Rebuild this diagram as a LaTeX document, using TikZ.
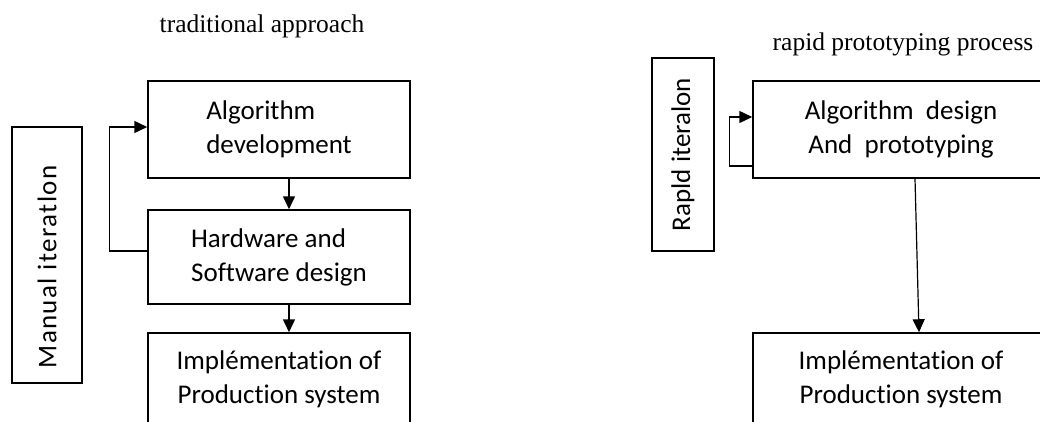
\documentclass[tikz,border=0pt]{standalone}
\usepackage{fontspec}
\setmainfont{Liberation Serif}
\newfontfamily\boxfont[Ligatures=NoCommon]{Carlito}
\usetikzlibrary{arrows.meta}
\tikzset{
	stagebox/.style={draw, line width=1.5pt, inner sep=0pt, font=\boxfont\fontsize{27}{34}\selectfont},
	sidebox/.style={draw, line width=1.5pt, inner sep=0pt, font=\boxfont\fontsize{27}{30}\selectfont},
	flow/.style={line width=1.5pt, -{Triangle[length=13pt,width=12pt]}},
	heading/.style={font=\fontsize{25.5}{30}\selectfont}
}

\begin{document}
\begin{tikzpicture}[x=1pt, y=-1pt]
			%%%%% START %%%%%
			\useasboundingbox (0, 0) rectangle (1040, 421);
			\clip (0, 0) rectangle (1040, 421);
			
			% traditional approach
			\node[heading] (tradtitle) at (262, 26) {traditional approach};
			\node[sidebox, minimum width=256, minimum height=70, rotate=90,
				font=\boxfont\fontsize{27}{30}\selectfont\addfontfeature{LetterSpace=5}] (manual) at (47, 255) {Manual\hspace{0.3em}iteratlon\hspace*{24pt}};
			
			\node[stagebox, minimum width=262, minimum height=97, align=left] (alg) at (279, 129.5) {Algorithm\\development};
			\node[stagebox, minimum width=262, minimum height=94, align=left] (hw) at (279, 257) {Hardware and\\Software design};
			\node[stagebox, minimum width=262, minimum height=92, align=center] (impl) at (279, 379) {Implémentation of\\Production system};
			
			\draw[flow] ([xshift=10pt]alg.south) -- ([xshift=10pt]hw.north);
			\draw[flow] ([xshift=10pt]hw.south) -- ([xshift=10pt]impl.north);
			\draw[flow] ([yshift=6pt]hw.west) -- ++(-38, 0) |- ([yshift=2.5pt]alg.west);
			
			% rapid prototyping process
			\node[heading] (rapidtitle) at (903, 44) {rapid prototyping process};
			\node[sidebox, minimum width=193, minimum height=62, rotate=90] (rapid) at (683, 154.5) {Rapld iteralon};
			
			\node[stagebox, minimum width=296, minimum height=97, align=center] (design) at (901, 129.5) {Algorithm~ design\\And~ prototyping};
			\node[stagebox, minimum width=296, minimum height=92, align=center] (prod) at (901, 379) {Implémentation of\\Production system};
			
			\draw[flow, line width=1.2pt] ([xshift=14pt]design.south) -- ([xshift=18pt]prod.north);
			\draw[flow] ([yshift=-36.5pt]design.west) -- ++(-23, 0) |- ([yshift=12.5pt]design.west);
			%%%%% END %%%%%
\end{tikzpicture}
\end{document}
